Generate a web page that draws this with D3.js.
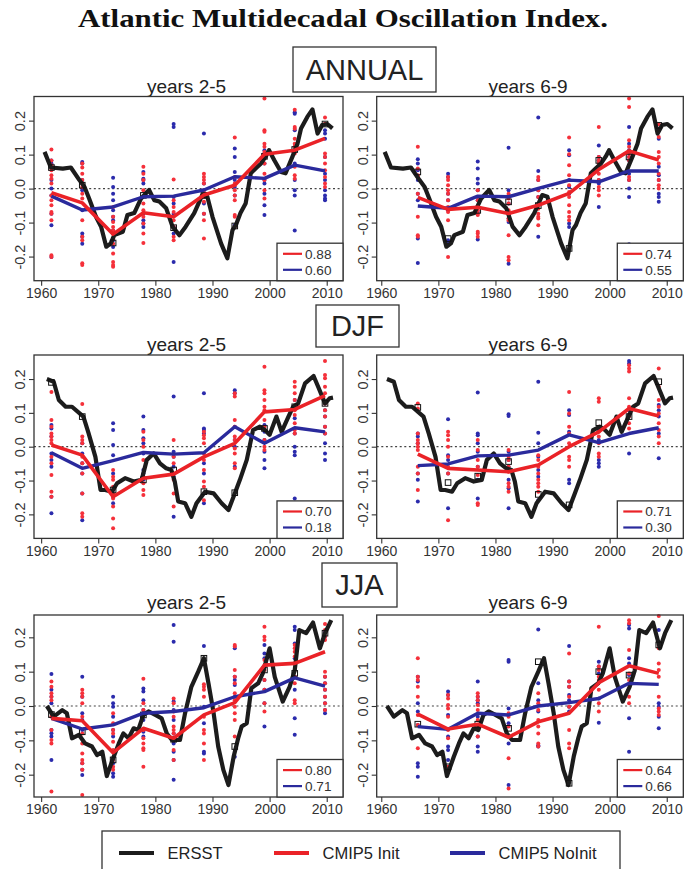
<!DOCTYPE html>
<html><head><meta charset="utf-8">
<script src="https://cdn.jsdelivr.net/npm/d3@7"></script>
<style>body{margin:0;background:#fff} svg{display:block}</style>
</head><body><svg id="c" width="686" height="869"></svg>
<script>
// ---------- DATA ----------
const TITLE = 'Atlantic Multidecadal Oscillation Index.';
const SEASONS = ['ANNUAL', 'DJF', 'JJA'];
const LEADS = ['years 2-5', 'years 6-9'];
const X_TICKS = [1960, 1970, 1980, 1990, 2000, 2010];
const Y_TICKS = [-0.2, -0.1, 0.0, 0.1, 0.2];
const SERIES_NAMES = ['ERSST', 'CMIP5 Init', 'CMIP5 NoInit'];

// verification times (x positions of the forecast columns)
const X25 = [1961.8, 1967.2, 1972.6, 1977.9, 1983.2, 1988.5, 1993.9, 1999.1, 2004.4, 2009.7];
const X69 = [1966.4, 1971.7, 1976.9, 1982.3, 1987.5, 1992.9, 1998.1, 2003.4, 2008.6];

// ERSST observed index (black line)
const ANN_OBS_YEARS = [1960.6,1961.7,1963.8,1965.2,1966.7,1967.6,1968.4,1969.6,1970.5,1971.4,1972.2,1972.8,1974.3,1975.1,1976.3,1977.5,1978.9,1979.8,1980.7,1981.9,1983.0,1984.2,1985.3,1986.8,1988.2,1989.1,1990.0,1991.5,1992.6,1993.5,1994.1,1994.9,1995.8,1996.7,1997.6,1998.5,1999.3,1999.9,2000.8,2002.0,2002.8,2004.0,2004.9,2005.5,2006.6,2007.5,2008.4,2009.2,2010.1,2011.0];
const ANN_OBS = [0.108,0.062,0.059,0.062,0.025,0.005,-0.029,-0.083,-0.112,-0.171,-0.161,-0.137,-0.127,-0.078,-0.072,-0.029,-0.004,-0.034,-0.038,-0.058,-0.112,-0.137,-0.112,-0.072,-0.019,-0.024,-0.083,-0.161,-0.205,-0.122,-0.107,-0.072,-0.044,0.045,0.060,0.074,0.094,0.113,0.084,0.049,0.045,0.094,0.133,0.177,0.211,0.233,0.162,0.187,0.190,0.177];
const DJF_OBS_YEARS = [1961.0,1962.2,1963.1,1964.3,1965.4,1967.4,1968.3,1969.5,1970.4,1971.2,1972.4,1973.3,1974.7,1976.2,1977.6,1978.5,1979.7,1980.8,1981.9,1982.8,1983.4,1984.0,1985.2,1986.3,1987.2,1988.7,1990.2,1991.6,1992.8,1993.9,1994.8,1996.0,1997.1,1998.3,1999.2,2000.0,2001.2,2002.1,2003.3,2004.1,2005.0,2006.2,2007.7,2008.5,2009.7,2010.5,2011.1];
const DJF_OBS = [0.200,0.192,0.138,0.118,0.118,0.089,0.040,-0.030,-0.128,-0.128,-0.133,-0.108,-0.093,-0.103,-0.098,-0.039,-0.020,-0.049,-0.064,-0.069,-0.103,-0.162,-0.167,-0.207,-0.167,-0.133,-0.138,-0.167,-0.187,-0.138,-0.098,-0.039,0.049,0.059,0.049,0.035,0.089,0.044,0.089,0.118,0.128,0.187,0.209,0.177,0.128,0.143,0.145];
const JJA_OBS_YEARS = [1961.0,1962.2,1963.7,1964.5,1965.4,1966.6,1967.7,1968.9,1969.8,1970.7,1971.5,1972.7,1973.6,1974.4,1975.3,1976.2,1977.0,1977.9,1978.8,1980.0,1981.1,1982.0,1982.9,1984.3,1985.2,1986.3,1987.5,1988.5,1989.3,1990.2,1991.0,1991.9,1992.8,1993.7,1994.5,1995.1,1996.0,1996.8,1998.0,1998.8,2000.0,2000.9,2002.3,2003.5,2004.4,2005.2,2006.4,2007.6,2008.8,2009.7,2010.8];
const JJA_OBS = [0.000,-0.031,-0.012,-0.021,-0.094,-0.084,-0.109,-0.118,-0.143,-0.133,-0.204,-0.148,-0.109,-0.080,-0.094,-0.065,-0.070,-0.026,-0.016,-0.026,-0.036,-0.080,-0.099,-0.099,-0.021,0.056,0.100,0.139,0.066,-0.021,-0.118,-0.186,-0.230,-0.148,-0.094,-0.060,-0.050,0.052,0.066,0.095,0.168,0.085,0.013,0.056,0.104,0.221,0.212,0.243,0.168,0.212,0.250];

// observed value at each verification time (open squares)
const ANN25_SQ = [0.062,0.010,-0.160,-0.020,-0.115,-0.020,-0.110,0.095,0.115,0.190];
const ANN69_SQ = [0.049,-0.147,-0.064,-0.039,-0.050,-0.176,0.083,0.093,0.186];
const DJF25_SQ = [0.190,0.089,-0.128,-0.098,-0.069,-0.133,-0.136,0.054,0.118,0.128];
const DJF69_SQ = [0.116,-0.106,-0.087,-0.044,-0.141,-0.172,0.071,0.089,0.192];
const JJA25_SQ = [-0.025,-0.075,-0.157,-0.026,-0.097,0.139,-0.118,0.105,0.095,0.212];
const JJA69_SQ = [-0.053,-0.177,-0.053,-0.065,0.129,-0.225,0.100,0.090,0.178];

// multi-model means
const ANN25_INIT = [-0.012,-0.042,-0.134,-0.071,-0.083,-0.019,0.010,0.101,0.113,0.148];
const ANN25_NOINIT = [-0.022,-0.063,-0.054,-0.024,-0.022,-0.004,0.035,0.030,0.069,0.052];
const ANN69_INIT = [-0.026,-0.061,-0.055,-0.073,-0.049,-0.014,0.056,0.111,0.084];
const ANN69_NOINIT = [-0.051,-0.058,-0.022,-0.024,0.001,0.025,0.020,0.052,0.052];
const DJF25_INIT = [0.005,-0.025,-0.148,-0.093,-0.081,-0.030,0.010,0.103,0.110,0.151];
const DJF25_NOINIT = [-0.018,-0.064,-0.041,-0.017,-0.022,-0.018,0.059,0.010,0.056,0.044];
const DJF69_INIT = [-0.022,-0.064,-0.069,-0.074,-0.054,0.000,0.044,0.113,0.091];
const DJF69_NOINIT = [-0.056,-0.051,-0.027,-0.025,-0.010,0.035,0.012,0.039,0.056];
const JJA25_INIT = [-0.036,-0.043,-0.136,-0.065,-0.094,-0.026,0.010,0.119,0.124,0.158];
const JJA25_NOINIT = [-0.036,-0.067,-0.055,-0.021,-0.016,-0.005,0.027,0.042,0.082,0.058];
const JJA69_INIT = [-0.024,-0.067,-0.053,-0.091,-0.046,-0.021,0.068,0.117,0.095];
const JJA69_NOINIT = [-0.060,-0.068,-0.021,-0.026,0.000,0.010,0.022,0.066,0.063];

// correlations [Init, NoInit]
const CORR_ANN25 = ['0.88', '0.60'];
const CORR_ANN69 = ['0.74', '0.55'];
const CORR_DJF25 = ['0.70', '0.18'];
const CORR_DJF69 = ['0.71', '0.30'];
const CORR_JJA25 = ['0.80', '0.71'];
const CORR_JJA69 = ['0.64', '0.66'];

// individual model values per column
const ANN25_DOTS_INIT = [
[0.115,0.083,0.069,0.054,0.039,0.029,0.015,-0.020,-0.034,-0.049,-0.069,-0.074,-0.093,-0.196,-0.201],
[0.074,0.062,0.044,0.025,0.015,0.005,-0.015,-0.029,-0.093,-0.142,-0.152,-0.220,-0.225],
[-0.054,-0.083,-0.098,-0.113,-0.123,-0.132,-0.147,-0.162,-0.191,-0.216,-0.225,-0.230],
[0.064,0.044,0.025,-0.005,-0.044,-0.064,-0.083,-0.103,-0.132,-0.160],
[0.027,-0.034,-0.054,-0.069,-0.093,-0.113,-0.142,-0.152],
[0.044,0.034,0.025,0.015,-0.005,-0.025,-0.039,-0.074,-0.093,-0.147],
[0.150,0.034,0.015,-0.005,-0.020,-0.034,-0.078,-0.083,-0.113],
[0.265,0.172,0.167,0.132,0.123,0.108,0.074,0.044,0.025,-0.005,-0.029],
[0.232,0.181,0.176,0.147,0.132,0.123,0.103,0.064,0.039,0.029],
[0.209,0.191,0.103,0.093,0.074,0.054,0.034,0.015,0.005]];
const ANN25_DOTS_NOINIT = [
[0.083,0.074,0.064,0.025,0.000,-0.020,-0.074,-0.108,-0.201],
[0.078,0.074,0.025,-0.005,-0.064,-0.132,-0.142,-0.162],
[0.032,0.005,-0.015,-0.034,-0.064,-0.083,-0.093,-0.123,-0.152,-0.172],
[0.049,0.029,0.025,0.015,-0.074,-0.093,-0.103,-0.113],
[0.190,0.181,-0.025,-0.044,-0.074,-0.113,-0.132,-0.216],
[0.162,0.015,-0.005,-0.020,-0.044,-0.074],
[0.118,0.093,0.049,0.025,0.005,-0.020,-0.108],
[0.113,0.103,0.074,0.025,0.015,-0.015,-0.049,-0.078],
[0.225,0.220,0.172,0.123,0.074,0.025,-0.005,-0.020,-0.123],
[0.172,0.162,0.147,0.093,0.044,0.025,-0.005,-0.020,-0.029,-0.034]];
const ANN69_DOTS_INIT = [
[0.123,0.059,0.039,0.034,-0.015,-0.083,-0.137,-0.142],
[0.034,0.025,0.010,-0.005,-0.015,-0.034,-0.054,-0.069,-0.093,-0.201],
[-0.005,-0.034,-0.064,-0.074,-0.078,-0.127,-0.132,-0.142],
[-0.015,-0.029,-0.044,-0.064,-0.088,-0.093,-0.137,-0.201,-0.211],
[0.034,0.025,-0.005,-0.025,-0.044,-0.059,-0.074,-0.083,-0.088,-0.108],
[0.150,0.101,0.069,0.039,0.010,-0.010,-0.025,-0.049,-0.069,-0.083,-0.093],
[0.181,0.093,0.083,0.074,0.064,0.044,0.025,0.005,-0.005,-0.020],
[0.265,0.240,0.142,0.123,0.103,0.093,0.083,0.034,0.025],
[0.189,0.172,0.152,0.108,0.093,0.074,0.044,0.025,0.010,0.000]];
const ANN69_DOTS_NOINIT = [
[0.086,0.074,0.054,0.025,-0.015,-0.034,-0.147,-0.219],
[0.044,0.034,-0.015,-0.034,-0.064,-0.152,-0.162],
[0.080,0.059,0.029,0.015,-0.005,-0.025,-0.034,-0.069,-0.150],
[0.120,-0.005,-0.020,-0.044,-0.074,-0.088,-0.098,-0.221],
[0.209,0.052,0.025,-0.005,-0.025,-0.142],
[0.113,0.098,0.025,0.005,-0.015,-0.103,-0.113],
[0.127,0.093,0.083,0.025,0.015,-0.054],
[0.181,0.132,0.113,0.093,0.083,0.044,0.025,0.000,-0.025,-0.164],
[0.176,0.147,0.064,0.039,0.025,-0.015,-0.025,-0.039]];
const DJF25_DOTS_INIT = [
[0.162,0.079,0.059,0.039,0.030,0.020,0.010,-0.030,-0.049,-0.084,-0.133,-0.148],
[0.126,0.030,0.020,0.010,-0.030,-0.049,-0.079,-0.138,-0.197,-0.207],
[-0.069,-0.089,-0.098,-0.118,-0.138,-0.153,-0.177,-0.212,-0.241],
[0.044,0.020,0.000,-0.039,-0.089,-0.108,-0.128,-0.143],
[0.020,-0.030,-0.049,-0.079,-0.098,-0.138,-0.177],
[0.044,0.034,0.025,0.010,-0.020,-0.039,-0.069,-0.103,-0.118,-0.158],
[0.158,0.148,0.079,0.059,0.030,0.020,-0.005,-0.020,-0.049,-0.064],
[0.236,0.167,0.158,0.138,0.118,0.108,0.079,0.059,0.020,0.000,-0.010],
[0.192,0.177,0.158,0.138,0.108,0.094,0.069,0.049,0.039],
[0.253,0.212,0.202,0.177,0.158,0.128,0.108,0.089,0.059,0.039]];
const DJF25_DOTS_NOINIT = [
[0.064,0.054,0.030,-0.020,-0.039,-0.059,-0.148,-0.197],
[0.010,-0.020,-0.049,-0.079,-0.138,-0.217],
[0.069,0.049,0.005,-0.025,-0.079,-0.128,-0.148,-0.167],
[0.089,0.049,0.025,0.010,-0.020,-0.069,-0.079,-0.098],
[0.148,-0.015,-0.030,-0.059,-0.089,-0.207],
[0.158,0.054,0.049,0.039,-0.049,-0.079,-0.167],
[0.167,0.158,0.059,0.020,0.000,-0.059],
[0.064,0.044,0.020,-0.015,-0.039,-0.064],
[0.138,0.118,0.084,0.039,0.000,-0.015,-0.025,-0.153],
[0.128,0.108,0.089,0.059,0.039,0.010,-0.020,-0.039]];
const DJF69_DOTS_INIT = [
[0.128,0.113,0.039,0.020,0.010,0.000,-0.010,-0.059,-0.079,-0.128],
[0.044,0.034,0.020,0.000,-0.030,-0.059,-0.079,-0.217],
[0.020,-0.010,-0.039,-0.059,-0.084,-0.167,-0.172],
[-0.010,-0.030,-0.039,-0.059,-0.074,-0.108,-0.118,-0.133],
[-0.025,-0.039,-0.059,-0.079,-0.098,-0.108,-0.118,-0.133],
[0.162,0.098,0.059,0.039,0.010,-0.030,-0.039,-0.059],
[0.143,0.133,0.059,0.044,0.030,0.010,-0.020,-0.030],
[0.241,0.231,0.222,0.143,0.118,0.089,0.069,0.054],
[0.231,0.177,0.138,0.118,0.098,0.069,0.049,0.030,0.010]];
const DJF69_DOTS_NOINIT = [
[0.039,0.030,0.010,-0.079,-0.098,-0.162],
[0.081,-0.025,-0.039,-0.079,-0.182],
[0.160,0.039,0.034,0.010,-0.015,-0.059,-0.098,-0.153],
[0.096,0.091,-0.015,-0.039,-0.059,-0.098,-0.123,-0.182],
[0.192,0.041,0.010,-0.030,-0.069,-0.089,-0.158],
[0.108,0.094,0.044,-0.098,-0.108],
[0.049,0.020,-0.039,-0.049,-0.059],
[0.253,0.246,0.108,0.094,-0.020],
[0.123,0.108,0.089,0.039,-0.034]];
const JJA25_DOTS_INIT = [
[0.071,0.056,0.037,0.027,0.017,-0.031,-0.070,-0.099,-0.109,-0.249],
[0.047,0.037,0.027,0.008,-0.031,-0.080,-0.109,-0.138,-0.157,-0.167,-0.186,-0.259],
[-0.021,-0.050,-0.070,-0.080,-0.104,-0.128,-0.157,-0.177,-0.186],
[0.079,0.008,-0.012,-0.070,-0.094,-0.109,-0.123,-0.128,-0.177],
[0.022,0.008,-0.016,-0.031,-0.060,-0.070,-0.080,-0.094,-0.128,-0.157],
[0.063,0.056,0.047,0.027,-0.031,-0.070,-0.080,-0.109,-0.157],
[0.178,0.173,0.105,0.085,0.066,0.037,0.017,-0.002,-0.021,-0.041,-0.089],
[0.231,0.202,0.192,0.134,0.119,0.105,0.076,0.047,0.008,-0.016],
[0.178,0.168,0.158,0.144,0.124,0.105,0.085,0.066,0.017,0.008],
[0.239,0.221,0.202,0.192,0.100,0.085,0.066,0.047,0.027,0.008,-0.012]];
const JJA25_DOTS_NOINIT = [
[0.093,0.047,0.027,0.008,-0.070,-0.079,-0.089,-0.157],
[0.085,0.027,-0.021,-0.041,-0.070,-0.167,-0.186,-0.201],
[0.027,0.008,-0.002,-0.031,-0.070,-0.089,-0.167,-0.196,-0.206],
[0.051,0.042,0.017,-0.012,-0.041,-0.075,-0.089],
[0.236,0.187,0.013,-0.012,-0.041,-0.080,-0.109,-0.133,-0.157,-0.215],
[0.175,-0.002,-0.050,-0.133,-0.138],
[0.168,0.085,0.076,0.061,0.027,-0.148],
[0.178,0.153,0.139,0.115,0.076,0.047,0.008,-0.060],
[0.231,0.221,0.182,0.139,0.085,0.047,-0.036,-0.084],
[0.216,0.202,0.085,0.066,0.047,0.027,0.008,-0.012,-0.021]];
const JJA69_DOTS_INIT = [
[0.139,0.085,0.076,0.056,0.027,-0.026,-0.055,-0.123],
[0.032,0.022,0.003,-0.007,-0.031,-0.070,-0.094,-0.177],
[0.037,0.027,0.017,0.003,-0.012,-0.041,-0.060,-0.089],
[-0.021,-0.031,-0.060,-0.089,-0.152,-0.240],
[0.037,0.008,-0.012,-0.041,-0.060,-0.080,-0.109,-0.118],
[0.153,0.071,0.056,0.027,-0.002,-0.070,-0.109,-0.123],
[0.231,0.115,0.105,0.085,0.076,0.047,0.008,-0.016],
[0.250,0.241,0.163,0.095,0.076,0.027,0.008],
[0.262,0.178,0.168,0.124,0.105,0.085,0.027,-0.007,-0.016,-0.026]];
const JJA69_DOTS_NOINIT = [
[0.085,0.071,0.008,-0.016,-0.055,-0.167,-0.177,-0.206],
[0.042,0.032,-0.026,-0.089,-0.118,-0.128,-0.157,-0.177],
[0.071,0.027,0.017,0.008,-0.031,-0.089,-0.118,-0.133],
[0.134,0.129,-0.007,-0.050,-0.109,-0.230],
[0.223,0.066,0.017,-0.016,-0.114,-0.118],
[0.175,0.071,0.056,0.032,0.017,-0.002,-0.016],
[0.129,0.115,0.095,0.022,-0.049],
[0.236,0.226,0.139,0.124,0.090,-0.036,-0.133],
[0.221,0.008,-0.002,-0.031,-0.065]];

// ---------- LAYOUT / STYLE ----------
const FONT = '"Liberation Sans", Arial, Helvetica, sans-serif';
const C_BLACK = '#1c1c1c', C_RED = '#ea2227', C_BLUE = '#2a2a9c';
const C_RED_DOT = '#f5303a', C_BLUE_DOT = '#2b2bac';
const AXIS_COL = '#333';

const rowLayout = [
  {top: 96.5, bottom: 280.7, ymax: 0.271, box: [293, 47, 436, 92], titleY: 93},
  {top: 355, bottom: 538.4, ymax: 0.271, box: [316, 305, 399, 347], titleY: 351},
  {top: 615, bottom: 797, ymax: 0.265, box: [322, 563, 397, 607], titleY: 609}
];
const colLayout = [
  {x0: 34, x1: 343, dom: [1958.75, 2012.85]},
  {x0: 376.7, x1: 683.3, dom: [1959.2, 2012.9]}
];

const obsBySeason = [
  {years: ANN_OBS_YEARS, vals: ANN_OBS},
  {years: DJF_OBS_YEARS, vals: DJF_OBS},
  {years: JJA_OBS_YEARS, vals: JJA_OBS}
];
const panelData = [
  [{xs: X25, init: ANN25_INIT, noinit: ANN25_NOINIT, sq: ANN25_SQ, dI: ANN25_DOTS_INIT, dN: ANN25_DOTS_NOINIT, corr: CORR_ANN25},
   {xs: X69, init: ANN69_INIT, noinit: ANN69_NOINIT, sq: ANN69_SQ, dI: ANN69_DOTS_INIT, dN: ANN69_DOTS_NOINIT, corr: CORR_ANN69}],
  [{xs: X25, init: DJF25_INIT, noinit: DJF25_NOINIT, sq: DJF25_SQ, dI: DJF25_DOTS_INIT, dN: DJF25_DOTS_NOINIT, corr: CORR_DJF25},
   {xs: X69, init: DJF69_INIT, noinit: DJF69_NOINIT, sq: DJF69_SQ, dI: DJF69_DOTS_INIT, dN: DJF69_DOTS_NOINIT, corr: CORR_DJF69}],
  [{xs: X25, init: JJA25_INIT, noinit: JJA25_NOINIT, sq: JJA25_SQ, dI: JJA25_DOTS_INIT, dN: JJA25_DOTS_NOINIT, corr: CORR_JJA25},
   {xs: X69, init: JJA69_INIT, noinit: JJA69_NOINIT, sq: JJA69_SQ, dI: JJA69_DOTS_INIT, dN: JJA69_DOTS_NOINIT, corr: CORR_JJA69}]
];

const svg = d3.select('#c');
svg.append('rect').attr('width', 686).attr('height', 869).attr('fill', '#fff');

// main title
svg.append('text').attr('x', 343).attr('y', 27).attr('text-anchor', 'middle')
  .attr('font-family', '"Liberation Serif", "DejaVu Serif", serif').attr('font-weight', 'bold')
  .attr('font-size', 25).attr('textLength', 530).attr('lengthAdjust', 'spacingAndGlyphs')
  .attr('fill', '#111').text(TITLE);

rowLayout.forEach((R, r) => {
  // season box
  const [bx0, by0, bx1, by1] = R.box;
  svg.append('rect').attr('x', bx0).attr('y', by0).attr('width', bx1 - bx0).attr('height', by1 - by0)
    .attr('fill', '#fff').attr('stroke', AXIS_COL).attr('stroke-width', 1.3);
  svg.append('text').attr('x', (bx0 + bx1) / 2).attr('y', (by0 + by1) / 2 + 10.4)
    .attr('text-anchor', 'middle').attr('font-family', FONT).attr('font-size', 29)
    .attr('fill', '#222').text(SEASONS[r]);

  colLayout.forEach((C, c) => {
    const P = panelData[r][c];
    const obs = obsBySeason[r];
    const x = d3.scaleLinear().domain(C.dom).range([C.x0, C.x1]);
    const y = d3.scaleLinear().domain([-R.ymax, R.ymax]).range([R.bottom, R.top]);
    const g = svg.append('g');

    // lead title
    g.append('text').attr('x', (C.x0 + C.x1) / 2 - 2).attr('y', R.titleY).attr('text-anchor', 'middle')
      .attr('font-family', FONT).attr('font-size', 19).attr('fill', '#222').text(LEADS[c]);

    // zero line
    g.append('line').attr('x1', C.x0).attr('x2', C.x1).attr('y1', y(0)).attr('y2', y(0))
      .attr('stroke', '#444').attr('stroke-width', 1.2).attr('stroke-dasharray', '2,2.6');

    // dots
    const dotsN = [], dotsI = [];
    P.dN.forEach((col, i) => col.forEach(v => dotsN.push([P.xs[i], v])));
    P.dI.forEach((col, i) => col.forEach(v => dotsI.push([P.xs[i], v])));
    g.selectAll(null).data(dotsN).join('circle').attr('cx', d => x(d[0])).attr('cy', d => y(d[1]))
      .attr('r', 2.0).attr('fill', C_BLUE_DOT);
    g.selectAll(null).data(dotsI).join('circle').attr('cx', d => x(d[0])).attr('cy', d => y(d[1]))
      .attr('r', 2.0).attr('fill', C_RED_DOT);

    // ERSST line
    const line = d3.line().x(d => x(d[0])).y(d => y(d[1]));
    g.append('path').attr('d', line(obs.years.map((yr, i) => [yr, obs.vals[i]])))
      .attr('fill', 'none').attr('stroke', C_BLACK).attr('stroke-width', 4.2).attr('stroke-linejoin', 'round');

    // squares
    g.selectAll(null).data(P.sq.map((v, i) => [P.xs[i], v])).join('rect')
      .attr('x', d => x(d[0]) - 2.8).attr('y', d => y(d[1]) - 2.8).attr('width', 5.6).attr('height', 5.6)
      .attr('fill', 'none').attr('stroke', '#111').attr('stroke-width', 1);

    // model means
    g.append('path').attr('d', line(P.noinit.map((v, i) => [P.xs[i], v])))
      .attr('fill', 'none').attr('stroke', C_BLUE).attr('stroke-width', 3.4).attr('stroke-linejoin', 'round');
    g.append('path').attr('d', line(P.init.map((v, i) => [P.xs[i], v])))
      .attr('fill', 'none').attr('stroke', C_RED).attr('stroke-width', 3.6).attr('stroke-linejoin', 'round');

    // frame
    g.append('rect').attr('x', C.x0).attr('y', R.top).attr('width', C.x1 - C.x0).attr('height', R.bottom - R.top)
      .attr('fill', 'none').attr('stroke', AXIS_COL).attr('stroke-width', 1.3);

    // axes
    const ax = g.append('g').attr('transform', `translate(0,${R.bottom})`)
      .call(d3.axisBottom(x).tickValues(X_TICKS).tickSize(5).tickPadding(2.5).tickFormat(d3.format('d')));
    ax.select('.domain').remove();
    ax.selectAll('line').attr('stroke', AXIS_COL).attr('stroke-width', 1.1);
    ax.selectAll('text').attr('font-family', FONT).attr('font-size', 14).attr('fill', '#333');

    const ay = g.append('g').attr('transform', `translate(${C.x0},0)`)
      .call(d3.axisLeft(y).tickValues(Y_TICKS).tickSize(5).tickFormat(d => d.toFixed(1)));
    ay.select('.domain').remove();
    ay.selectAll('line').attr('stroke', AXIS_COL).attr('stroke-width', 1.1);
    ay.selectAll('text').attr('font-family', FONT).attr('font-size', 14.5).attr('fill', '#333')
      .attr('x', 0).attr('dy', '0.35em').attr('text-anchor', 'middle')
      .attr('transform', 'translate(-14,0) rotate(-90)');

    // legend
    const lw = 66, lh = 37.5, lx = C.x1 - lw, ly = R.bottom - lh;
    g.append('rect').attr('x', lx).attr('y', ly).attr('width', lw).attr('height', lh)
      .attr('fill', '#fff').attr('stroke', AXIS_COL).attr('stroke-width', 1.3);
    [[C_RED, P.corr[0], 10.6], [C_BLUE, P.corr[1], 26.6]].forEach(([col, txt, dy]) => {
      g.append('line').attr('x1', lx + 6).attr('x2', lx + 25).attr('y1', ly + dy).attr('y2', ly + dy)
        .attr('stroke', col).attr('stroke-width', 2.2);
      g.append('text').attr('x', lx + 28).attr('y', ly + dy + 4.9).attr('font-family', FONT)
        .attr('font-size', 13.6).attr('fill', '#333').text(txt);
    });
  });
});

// bottom legend
svg.append('rect').attr('x', 102).attr('y', 831).attr('width', 518).attr('height', 60)
  .attr('fill', '#fff').attr('stroke', AXIS_COL).attr('stroke-width', 1.3);
const legItems = [
  {name: SERIES_NAMES[0], col: C_BLACK, x: 119, tx: 167.5},
  {name: SERIES_NAMES[1], col: C_RED, x: 274, tx: 322.5},
  {name: SERIES_NAMES[2], col: C_BLUE, x: 450, tx: 498.5}
];
legItems.forEach(it => {
  svg.append('line').attr('x1', it.x).attr('x2', it.x + 35).attr('y1', 853).attr('y2', 853)
    .attr('stroke', it.col).attr('stroke-width', 4);
  svg.append('text').attr('x', it.tx).attr('y', 859).attr('font-family', FONT).attr('font-size', 16.5)
    .attr('fill', '#222').text(it.name);
});
</script></body></html>
